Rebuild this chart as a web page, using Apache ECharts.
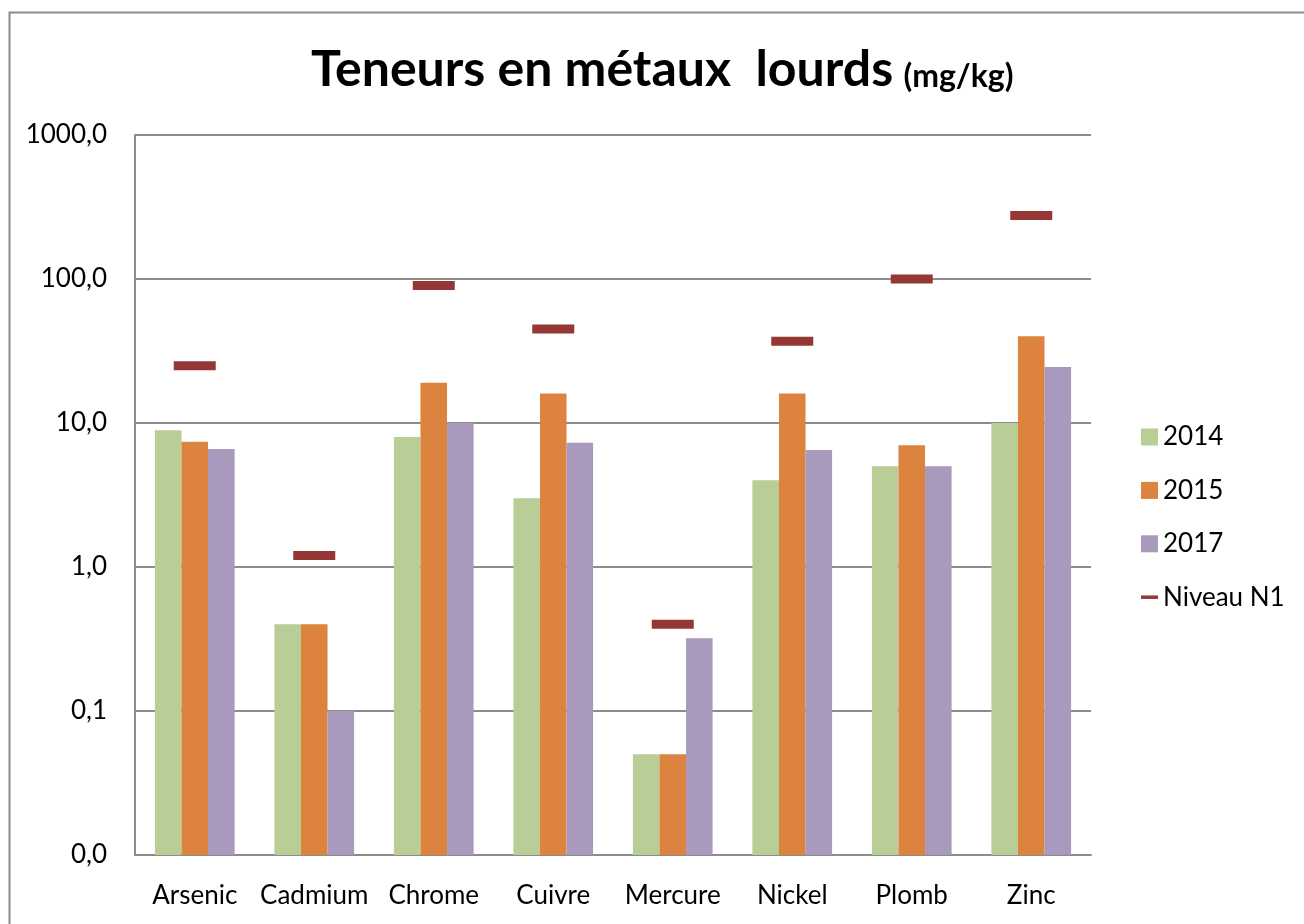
<!DOCTYPE html>
<html>
<head>
<meta charset="utf-8">
<script src="https://cdn.jsdelivr.net/npm/echarts@6/dist/echarts.min.js"></script>
<style>
  html, body { margin: 0; padding: 0; background: #fff; }
  #chart { width: 1304px; height: 924px; }
</style>
</head>
<body>
<div id="chart"></div>
<script>
// métaux analysés
const metaux = ['Arsenic', 'Cadmium', 'Chrome', 'Cuivre', 'Mercure', 'Nickel', 'Plomb', 'Zinc']
// teneurs par année (mg/kg)
const val2014 = [8.9, 0.4, 8, 3, 0.05, 4, 5, 10]
const val2015 = [7.4, 0.4, 19, 16, 0.05, 16, 7, 40]
const val2017 = [6.6, 0.1, 10, 7.3, 0.32, 6.5, 5, 24.5]
// seuil Niveau N1
const niveauN1 = [25, 1.2, 90, 45, 0.4, 37, 100, 276]

const font = 'Lato'
const chart = echarts.init(document.getElementById('chart'))

const option = {
  animation: false,
  textStyle: { fontFamily: font },
  graphic: [{
    type: 'rect',
    left: 7,
    top: 10,
    shape: { width: 1400, height: 1000 },
    style: { fill: 'none', stroke: '#8c8c8c', lineWidth: 2 },
    silent: true
  }],
  title: {
    text: '{a|Teneurs en métaux  lourds} {b|(mg/kg)}',
    left: 306,
    top: 40,
    textStyle: {
      rich: {
        a: { fontFamily: font, fontWeight: 'bold', fontSize: 50, color: '#000' },
        b: { fontFamily: font, fontWeight: 'bold', fontSize: 32, color: '#000', padding: [14, 0, 0, 6] }
      }
    }
  },
  legend: {
    orient: 'vertical',
    left: 1136,
    top: 419,
    itemWidth: 17,
    itemHeight: 17,
    itemGap: 27.4,
    textStyle: { fontFamily: font, fontSize: 26, color: '#000', lineHeight: 25 },
    data: [
      { name: '2014', icon: 'rect' },
      { name: '2015', icon: 'rect' },
      { name: '2017', icon: 'rect' },
      { name: 'Niveau N1', icon: 'path://M0,0 H17 V3.5 H0 Z' }
    ]
  },
  grid: { left: 135, right: 213, top: 135, bottom: 69 },
  xAxis: {
    type: 'category',
    data: metaux,
    axisLine: { lineStyle: { color: '#8c8c8c', width: 2 } },
    axisTick: { show: false },
    axisLabel: { color: '#000', fontSize: 26, fontFamily: font, margin: 28, interval: 0 }
  },
  yAxis: {
    type: 'log',
    logBase: 10,
    min: 0.01,
    max: 1000,
    startValue: 0.01,
    axisLine: { show: true, lineStyle: { color: '#8c8c8c', width: 2 } },
    axisTick: { show: false },
    splitLine: { lineStyle: { color: '#8c8c8c', width: 2 } },
    axisLabel: {
      color: '#000',
      fontSize: 26,
      fontFamily: font,
      margin: 28,
      formatter: v => v.toFixed(1).replace('.', ',')
    }
  },
  series: [
    {
      name: '2014',
      type: 'bar',
      data: val2014,
      barGap: '0%',
      barCategoryGap: '33.3%',
      itemStyle: { color: '#b9cd96' }
    },
    {
      name: '2015',
      type: 'bar',
      data: val2015,
      itemStyle: { color: '#db833f' }
    },
    {
      name: '2017',
      type: 'bar',
      data: val2017,
      itemStyle: { color: '#a99abd' }
    },
    {
      name: 'Niveau N1',
      type: 'scatter',
      data: niveauN1,
      symbol: 'rect',
      symbolSize: [42, 9],
      itemStyle: { color: '#953735', opacity: 1 }
    }
  ]
}

chart.setOption(option)
</script>
</body>
</html>
